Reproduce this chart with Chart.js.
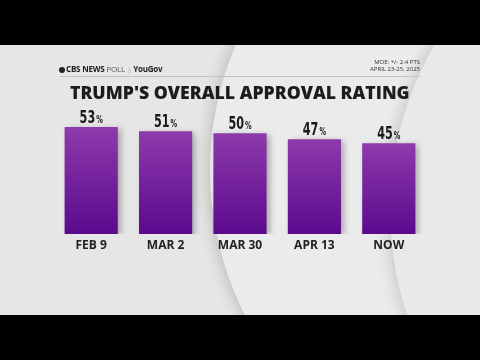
<!DOCTYPE html>
<html>
<head>
<meta charset="utf-8">
<script src="https://cdn.jsdelivr.net/npm/chart.js@4"></script>
<style>
    html, body { margin: 0; padding: 0; background: #000; }
    #wrap { position: relative; width: 480px; height: 360px; overflow: hidden; }
    #chart { position: absolute; left: 0; top: 0; }
    .txt { position: absolute; white-space: nowrap; color: #1e1e1e; }
    #brand { left: 59px; top: 63px; font: 8px 'Open Sans', sans-serif; letter-spacing: -0.2px; }
    #brand b { font-weight: 700; }
    #brand .light { font-weight: 400; color: #555; }
    #brand .sep { color: #aaa; margin: 0 2px; }
    #brand .eye { display: inline-block; width: 6px; height: 6px; border-radius: 50%; background: #222; vertical-align: -0.5px; margin-right: 1px; }
    #moe { right: 60px; top: 59px; font: 6px 'Open Sans', sans-serif; text-align: right; line-height: 6.5px; color: #333; }
    #rule { position: absolute; left: 60px; top: 76px; width: 360px; height: 1px; background: #c4c4c4; }
    #title { left: 70px; top: 80px; font: 800 18px 'Open Sans', sans-serif; color: #1c1c1c; transform-origin: left top; }
</style>
</head>
<body>
<div id="wrap">
    <canvas id="chart" width="480" height="360"></canvas>
    <div class="txt" id="brand"><span class="eye"></span><b>CBS NEWS</b> <span class="light">POLL</span><span class="sep">|</span><b>YouGov</b></div>
    <div class="txt" id="moe">MOE: +/- 2.4 PTS<br>APRIL 23-25, 2025</div>
    <div id="rule"></div>
    <div class="txt" id="title">TRUMP'S OVERALL APPROVAL RATING</div>
</div>
<script>
const categories = ['FEB 9', 'MAR 2', 'MAR 30', 'APR 13', 'NOW'];
const approval = [53, 51, 50, 47, 45];
const yMax = 60;

// stretch title to the width seen in the reference
const title = document.getElementById('title');
title.style.transform = 'scaleX(' + (340 / title.offsetWidth) + ')';

const backdrop = {
    id: 'backdrop',
    beforeDraw(chart) {
        const ctx = chart.ctx;
        ctx.save();
        ctx.fillStyle = '#000';
        ctx.fillRect(0, 0, 480, 360);
        ctx.beginPath();
        ctx.rect(0, 45, 480, 270);
        ctx.clip();
        ctx.fillStyle = '#e6e6e6';
        ctx.fillRect(0, 45, 480, 270);

        // big soft disc behind the middle bars
        ctx.shadowColor = 'rgba(0,0,0,0.16)';
        ctx.shadowBlur = 14;
        ctx.shadowOffsetX = -4;
        ctx.beginPath();
        ctx.arc(528, 170, 318, 0, Math.PI * 2);
        ctx.fillStyle = '#ebebeb';
        ctx.fill();

        // second disc on the right
        ctx.shadowColor = 'rgba(0,0,0,0.14)';
        ctx.beginPath();
        ctx.arc(720, 210, 330, 0, Math.PI * 2);
        ctx.fillStyle = '#e9e9e9';
        ctx.fill();
        ctx.restore();
    }
};

const barShadow = {
    id: 'barShadow',
    beforeDatasetsDraw(chart) {
        const ctx = chart.ctx;
        ctx.save();
        ctx.shadowColor = 'rgba(0,0,0,0.28)';
        ctx.shadowBlur = 6;
        ctx.shadowOffsetX = 3;
        ctx.shadowOffsetY = 2;
    },
    afterDatasetsDraw(chart) {
        chart.ctx.restore();
    }
};

// condensed "53%" labels: digits squeezed horizontally, small percent sign
const numFont = 'bold 17px "DejaVu Sans", sans-serif';
const pctFont = 'bold 10px "DejaVu Sans", sans-serif';
const squeeze = 0.66;

const valueLabels = {
    id: 'valueLabels',
    afterDraw(chart) {
        const ctx = chart.ctx;
        const meta = chart.getDatasetMeta(0);
        ctx.save();
        ctx.fillStyle = '#1a1a1a';
        ctx.textBaseline = 'alphabetic';
        ctx.textAlign = 'left';
        meta.data.forEach((bar, i) => {
            const num = String(approval[i]);
            ctx.font = numFont;
            const w1 = ctx.measureText(num).width * squeeze;
            ctx.font = pctFont;
            const w2 = ctx.measureText('%').width * squeeze;
            const x0 = bar.x - (w1 + w2 + 1) / 2;
            const y = bar.y - 4;
            ctx.save();
            ctx.translate(x0, y);
            ctx.scale(squeeze, 1);
            ctx.font = numFont;
            ctx.fillText(num, 0, 0);
            ctx.font = pctFont;
            ctx.fillText('%', (w1 + 1) / squeeze, 0);
            ctx.restore();
        });
        ctx.restore();
    }
};

new Chart(document.getElementById('chart'), {
    type: 'bar',
    data: {
        labels: categories,
        datasets: [{
            data: approval,
            backgroundColor(context) {
                const chart = context.chart;
                if (!chart.chartArea) return '#7a2a9e';
                const yScale = chart.scales.y;
                const top = yScale.getPixelForValue(context.raw);
                const bottom = yScale.getPixelForValue(0);
                const g = chart.ctx.createLinearGradient(0, top, 0, bottom);
                g.addColorStop(0, '#8d3aac');
                g.addColorStop(1, '#5c0a8d');
                return g;
            },
            borderWidth: 0,
            barPercentage: 0.715,
            categoryPercentage: 1
        }]
    },
    options: {
        responsive: false,
        animation: false,
        layout: {
            padding: { top: 113, left: 54, right: 54, bottom: 0 }
        },
        scales: {
            x: {
                grid: { display: false, drawTicks: false },
                border: { display: false },
                ticks: {
                    color: '#222',
                    padding: 4,
                    font: { family: 'Open Sans', size: 12, weight: '700' }
                },
                afterFit(scale) {
                    scale.height = 126;
                }
            },
            y: {
                display: false,
                min: 0,
                max: yMax
            }
        },
        plugins: {
            legend: { display: false },
            tooltip: { enabled: false }
        }
    },
    plugins: [backdrop, barShadow, valueLabels]
});
</script>
</body>
</html>
